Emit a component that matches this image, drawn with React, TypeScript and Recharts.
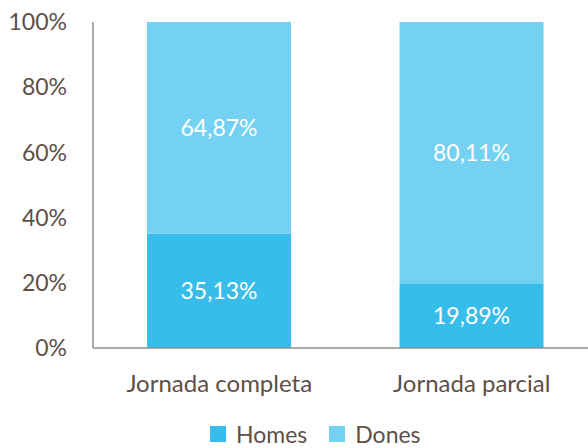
import { BarChart, Bar, XAxis, YAxis, LabelList } from "recharts";

const categories = ["Jornada completa", "Jornada parcial"];
const homes = [35.13, 19.89];
const dones = [64.87, 80.11];
const yTicks = [0, 20, 40, 60, 80, 100];
const seriesNames = ["Homes", "Dones"];
const seriesColors = ["#37bdea", "#75d1f1"];

const data = categories.map((name, i) => ({ name, homes: homes[i], dones: dones[i] }));

const textColor = "#5e4f47";
const axisColor = "#8f8f8f";
const font = "Lato, 'Open Sans', sans-serif";

const fmt = (v: any) => `${Number(v).toFixed(2).replace(".", ",")}%`;

function LegendBox() {
  return (
    <div
      style={{
        position: "absolute",
        left: 210,
        top: 421,
        display: "flex",
        alignItems: "center",
        fontFamily: font,
        fontSize: 23,
        lineHeight: "26px",
        color: textColor,
      }}
    >
      {seriesNames.map((n, i) => (
        <span key={n} style={{ display: "flex", alignItems: "center", marginRight: 22 }}>
          <span style={{ width: 16, height: 16, background: seriesColors[i], marginRight: 10, display: "inline-block" }} />
          {n}
        </span>
      ))}
    </div>
  );
}

export default function App() {
  return (
    <div style={{ position: "fixed", left: 0, top: 0, width: 588, height: 448, overflow: "hidden", background: "#fff" }}>
      <BarChart
        width={598}
        height={470}
        data={data}
        margin={{ top: 22, right: 0, left: 0, bottom: 0 }}
        barCategoryGap="21.4%"
      >
        <XAxis
          dataKey="name"
          height={122}
          tickLine={false}
          tickSize={0}
          tickMargin={27}
          axisLine={{ stroke: axisColor, strokeWidth: 1.5 }}
          tick={{ fill: textColor, fontSize: 24, fontFamily: font }}
        />
        <YAxis
          width={93}
          domain={[0, 100]}
          ticks={yTicks}
          interval={0}
          tickLine={false}
          tickSize={0}
          tickMargin={26}
          tickFormatter={(v) => `${v}%`}
          axisLine={{ stroke: axisColor, strokeWidth: 1.5 }}
          tick={{ fill: textColor, fontSize: 23, fontFamily: font }}
        />
        <Bar dataKey="homes" name="Homes" stackId="a" fill={seriesColors[0]} isAnimationActive={false}>
          <LabelList dataKey="homes" position="center" formatter={fmt} fill="#fff" fontSize={23} fontFamily={font} />
        </Bar>
        <Bar dataKey="dones" name="Dones" stackId="a" fill={seriesColors[1]} isAnimationActive={false}>
          <LabelList dataKey="dones" position="center" formatter={fmt} fill="#fff" fontSize={23} fontFamily={font} />
        </Bar>
      </BarChart>
      <LegendBox />
    </div>
  );
}
